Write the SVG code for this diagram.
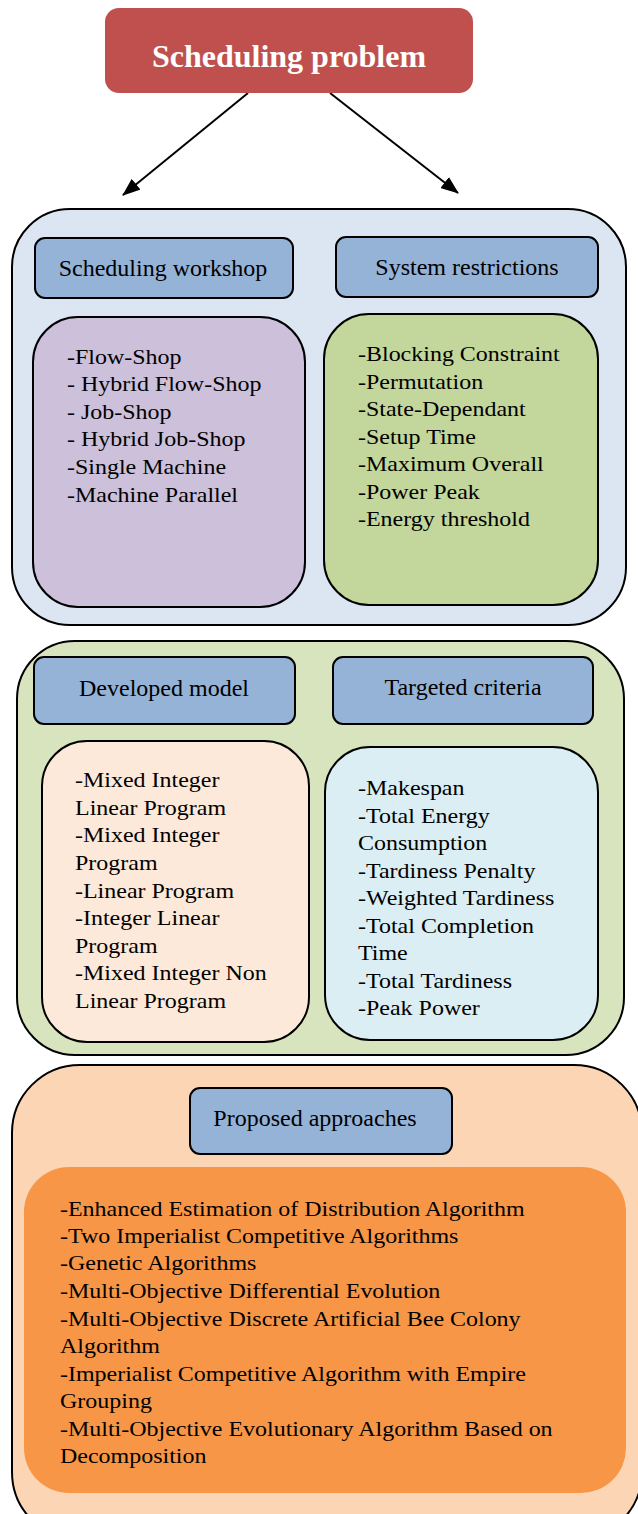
<svg xmlns="http://www.w3.org/2000/svg" width="638" height="1514" viewBox="0 0 638 1514">
<style>
.t{font-family:"Liberation Serif","Times New Roman",serif;font-size:22px;fill:#000}
.h{font-family:"Liberation Serif","Times New Roman",serif;font-size:24px;fill:#000;text-anchor:middle}
.b{stroke:#000;stroke-width:2}
.hd{fill:#95B3D7;stroke:#000;stroke-width:2}
</style>
<defs>
<marker id="ah" markerWidth="18" markerHeight="14" refX="17" refY="7" orient="auto" markerUnits="userSpaceOnUse" viewBox="0 0 18 14">
<path d="M0,0 L18,7 L0,14 z" fill="#000"/>
</marker>
</defs>
<rect width="638" height="1514" fill="#fff"/>
<g id="connectors" stroke="#000" stroke-width="2" fill="none">
<line x1="248" y1="93" x2="123" y2="195" marker-end="url(#ah)"/>
<line x1="330" y1="93" x2="458" y2="193" marker-end="url(#ah)"/>
</g>
<g id="root">
<rect x="105" y="8" width="368" height="85" rx="14" fill="#C0504D"/>
<text x="289" y="67" font-family="Liberation Serif,serif" font-size="32" font-weight="bold" fill="#fff" text-anchor="middle">Scheduling problem</text>
</g>
<g id="panel1">
<rect x="12" y="209" width="614" height="416" rx="58" fill="#DCE6F2" class="b"/>
</g>
<g id="scheduling-workshop">
<rect x="35" y="238" width="258" height="60" rx="10" class="hd"/>
<text x="163" y="276" class="h">Scheduling workshop</text>
</g>
<g id="system-restrictions">
<rect x="336" y="237" width="262" height="60" rx="10" class="hd"/>
<text x="467" y="275" class="h">System restrictions</text>
</g>
<g id="workshop-list">
<rect x="33" y="317" width="272" height="290" rx="45" fill="#CCC0DA" class="b"/>
<text class="t" transform="translate(67 0) scale(1.09 1)"><tspan x="0" y="364">-Flow-Shop</tspan><tspan x="0" y="391">- Hybrid Flow-Shop</tspan><tspan x="0" y="419">- Job-Shop</tspan><tspan x="0" y="446">- Hybrid Job-Shop</tspan><tspan x="0" y="474">-Single Machine</tspan><tspan x="0" y="502">-Machine Parallel</tspan></text>
</g>
<g id="restrictions-list">
<rect x="324" y="314" width="274" height="291" rx="45" fill="#C3D69B" class="b"/>
<text class="t" transform="translate(358 0) scale(1.09 1)"><tspan x="0" y="361">-Blocking Constraint</tspan><tspan x="0" y="389">-Permutation</tspan><tspan x="0" y="416">-State-Dependant</tspan><tspan x="0" y="444">-Setup Time</tspan><tspan x="0" y="471">-Maximum Overall</tspan><tspan x="0" y="499">-Power Peak</tspan><tspan x="0" y="526">-Energy threshold</tspan></text>
</g>
<g id="panel2">
<rect x="17" y="641" width="607" height="414" rx="58" fill="#D7E4BD" class="b"/>
</g>
<g id="developed-model">
<rect x="34" y="657" width="261" height="67" rx="10" class="hd"/>
<text x="164" y="696" class="h">Developed model</text>
</g>
<g id="targeted-criteria">
<rect x="333" y="657" width="260" height="67" rx="10" class="hd"/>
<text x="463" y="695" class="h">Targeted criteria</text>
</g>
<g id="model-list">
<rect x="42" y="741" width="267" height="301" rx="45" fill="#FDE9D9" class="b"/>
<text class="t" transform="translate(75 0) scale(1.09 1)"><tspan x="0" y="787">-Mixed Integer</tspan><tspan x="0" y="815">Linear Program</tspan><tspan x="0" y="842">-Mixed Integer</tspan><tspan x="0" y="870">Program</tspan><tspan x="0" y="898">-Linear Program</tspan><tspan x="0" y="925">-Integer Linear</tspan><tspan x="0" y="953">Program</tspan><tspan x="0" y="980">-Mixed Integer Non</tspan><tspan x="0" y="1008">Linear Program</tspan></text>
</g>
<g id="criteria-list">
<rect x="325" y="747" width="273" height="293" rx="45" fill="#DBEEF3" class="b"/>
<text class="t" transform="translate(358 0) scale(1.09 1)"><tspan x="0" y="795">-Makespan</tspan><tspan x="0" y="823">-Total Energy</tspan><tspan x="0" y="850">Consumption</tspan><tspan x="0" y="878">-Tardiness Penalty</tspan><tspan x="0" y="905">-Weighted Tardiness</tspan><tspan x="0" y="933">-Total Completion</tspan><tspan x="0" y="960">Time</tspan><tspan x="0" y="988">-Total Tardiness</tspan><tspan x="0" y="1015">-Peak Power</tspan></text>
</g>
<g id="panel3">
<rect x="12" y="1065" width="630" height="475" rx="68" fill="#FCD5B4" class="b"/>
</g>
<g id="proposed-approaches">
<rect x="190" y="1088" width="262" height="66" rx="10" class="hd"/>
<text x="315" y="1126" class="h">Proposed approaches</text>
</g>
<g id="approaches-list">
<rect x="24" y="1167" width="602" height="326" rx="45" fill="#F79646"/>
<text class="t" transform="translate(60 0) scale(1.09 1)"><tspan x="0" y="1216">-Enhanced Estimation of Distribution Algorithm</tspan><tspan x="0" y="1243">-Two Imperialist Competitive Algorithms</tspan><tspan x="0" y="1270">-Genetic Algorithms</tspan><tspan x="0" y="1298">-Multi-Objective Differential Evolution</tspan><tspan x="0" y="1326">-Multi-Objective Discrete Artificial Bee Colony</tspan><tspan x="0" y="1353">Algorithm</tspan><tspan x="0" y="1381">-Imperialist Competitive Algorithm with Empire</tspan><tspan x="0" y="1408">Grouping</tspan><tspan x="0" y="1436">-Multi-Objective Evolutionary Algorithm Based on</tspan><tspan x="0" y="1463">Decomposition</tspan></text>
</g>
</svg>
